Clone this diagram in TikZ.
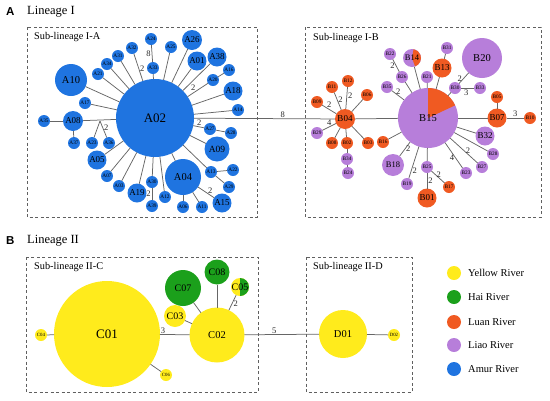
\documentclass[tikz,border=0pt]{standalone}
\usepackage{fontspec}
\setmainfont{Liberation Serif}
\newfontfamily\hsans{Liberation Sans}
\definecolor{yel}{HTML}{FFEB1C}
\definecolor{hai}{HTML}{1BA01B}
\definecolor{luan}{HTML}{F05A22}
\definecolor{liao}{HTML}{B77EDA}
\definecolor{amur}{HTML}{1F74E0}
\definecolor{lnc}{HTML}{666666}
\definecolor{boxc}{HTML}{606060}
\begin{document}
\begin{tikzpicture}[x=1pt,y=-1pt,
  hap/.style={circle,inner sep=0pt,outer sep=0pt,text=black},
  dia/.style={minimum size=#1pt},
  fs/.style={font=\fontsize{#1}{#1}\selectfont},
  sm/.style={hap,dia=12,fs=5.3},
  md/.style={hap,dia=19,fs=9},
  edge/.style={draw=lnc,line width=0.75pt},
  lbl/.style={fs=8.5,inner sep=1pt,text=black!85},
  boxd/.style={draw=boxc,dashed,dash pattern=on 3pt off 2.5pt,line width=0.7pt},
  sub/.style={anchor=west,fs=10.3,inner sep=0pt},
  head/.style={anchor=west,fs=12.5,inner sep=0pt},
  hlet/.style={anchor=west,font=\hsans\bfseries\fontsize{11.5}{11.5}\selectfont,inner sep=0pt},
  lgd/.style={anchor=west,fs=10.5,inner sep=0pt}]
\useasboundingbox (0,0) rectangle (550,400);
% headers and boxes
\node[hlet] (hA) at (6,12) {A};
\node[head] (hAt) at (27,12) {Lineage I};
\node[hlet] (hB) at (6,241) {B};
\node[head] (hBt) at (27,241) {Lineage II};
\draw[boxd] (27,27) rectangle (257,217);
\draw[boxd] (305,27) rectangle (541,217);
\draw[boxd] (26,257) rectangle (258,392);
\draw[boxd] (306,257) rectangle (412,392);
\node[sub] (sA) at (34,37) {Sub-lineage I-A};
\node[sub] (sB) at (313,38) {Sub-lineage I-B};
\node[sub] (sC) at (34,267) {Sub-lineage II-C};
\node[sub] (sD) at (313,267) {Sub-lineage II-D};
% ---------------- Sub-lineage I-A
\node[hap,dia=78,fs=13,fill=amur] (A02) at (155,118) {A02};
\node[sm,fill=amur] (A24) at (151,39) {A24};
\node[sm,fill=amur] (A33) at (153,68) {A33};
\node[sm,fill=amur] (A32) at (132,48) {A32};
\node[sm,fill=amur] (A31) at (118,56) {A31};
\node[sm,fill=amur] (A34) at (107,64) {A34};
\node[sm,fill=amur] (A21) at (98,74) {A21};
\node[hap,dia=32,fs=10.5,fill=amur] (A10) at (71,80) {A10};
\node[sm,fill=amur] (A17) at (85,103) {A17};
\node[md,dia=20,fill=amur] (A08) at (73,121) {A08};
\node[sm,fill=amur] (A35) at (44,121) {A35};
\node[sm,fill=amur] (A37) at (74,143) {A37};
\node[sm,fill=amur] (A23) at (92,143) {A23};
\node[sm,fill=amur] (A36) at (109,143) {A36};
\coordinate (m1) at (100,121);
\node[md,fill=amur] (A05) at (97,160) {A05};
\node[sm,fill=amur] (A07) at (107,176) {A07};
\node[sm,fill=amur] (A03) at (119,186) {A03};
\node[md,fill=amur] (A19) at (137,193) {A19};
\node[sm,fill=amur] (A30) at (152,182) {A30};
\node[sm,fill=amur] (A39) at (152,206) {A39};
\node[sm,fill=amur] (A12) at (165,197) {A12};
\node[hap,dia=36,fs=10.5,fill=amur] (A04) at (183,177) {A04};
\node[sm,fill=amur] (A06) at (183,207) {A06};
\node[sm,fill=amur] (A11) at (202,207) {A11};
\node[md,fill=amur] (A15) at (222,203) {A15};
\node[sm,fill=amur] (A13) at (211,172) {A13};
\node[sm,fill=amur] (A22) at (233,170) {A22};
\node[sm,fill=amur] (A29) at (229,187) {A29};
\node[hap,dia=25,fs=9.5,fill=amur] (A09) at (217,149) {A09};
\node[sm,fill=amur] (A27) at (210,129) {A27};
\node[sm,fill=amur] (A28) at (231,133) {A28};
\node[sm,fill=amur] (A14) at (238,110) {A14};
\node[md,fill=amur] (A18) at (233,91) {A18};
\node[sm,fill=amur] (A20) at (213,80) {A20};
\node[sm,fill=amur] (A16) at (229,70) {A16};
\node[md,fill=amur] (A38) at (217,57) {A38};
\node[md,fill=amur] (A01) at (197,61) {A01};
\node[md,dia=20,fill=amur] (A26) at (192,40) {A26};
\node[sm,fill=amur] (A25) at (171,47) {A25};
\foreach \n in {A21,A34,A31,A33,A25,A26,A01,A38,A18,A14,A10,A17,A08,A05,A07,A03,A19,A30,A12,A04,A13,A09}
  \draw[edge] (A02) -- (\n);
\draw[edge] (A02) -- node[lbl,right,pos=.45] {2} (A32);
\draw[edge] (A33) -- node[lbl,left] {8} (A24);
\draw[edge] (A02) -- node[lbl,above left=-1pt,pos=.4] {2} (A20);
\draw[edge] (A20) -- (A16);
\draw[edge] (A02) -- node[lbl,above,pos=.55] {2} (A27);
\draw[edge] (A27) -- (A28);
\draw[edge] (A08) -- (A35);
\draw[edge] (A08) -- (A37);
\draw[edge] (m1) -- (A23);
\draw[edge] (m1) -- node[lbl,right,pos=.4] {2} (A36);
\draw[edge] (A30) -- node[lbl,left] {2} (A39);
\draw[edge] (A04) -- (A06);
\draw[edge] (A04) -- (A11);
\draw[edge] (A04) -- node[lbl,above right=-1pt,pos=.6] {2} (A15);
\draw[edge] (A13) -- (A22);
\draw[edge] (A13) -- (A29);
% ---------------- Sub-lineage I-B
\fill[liao] (428,118) circle (30pt);
\fill[luan] (428,118) -- ++(-25:30) arc[start angle=-25,end angle=-90,radius=30] -- cycle;
\node[hap,dia=60,fs=10.5] (B15) at (428,118) {B15};
\node[md,dia=20,fill=luan] (B04) at (345,119) {B04};
\draw[edge] (A02) -- node[lbl,above,pos=.63] {8} (B04);
\draw[edge] (B04) -- (B15);
\node[sm,fill=luan] (B09) at (317,102) {B09};
\node[sm,fill=luan] (B11) at (332,87) {B11};
\node[sm,fill=luan] (B12) at (348,81) {B12};
\node[sm,fill=luan] (B06) at (367,95) {B06};
\node[sm,fill=liao] (B29) at (317,133) {B29};
\node[sm,fill=luan] (B08) at (332,143) {B08};
\node[sm,fill=luan] (B02) at (347,143) {B02};
\node[sm,fill=liao] (B34) at (347,159) {B34};
\node[sm,fill=liao] (B24) at (348,173) {B24};
\node[sm,fill=luan] (B03) at (368,143) {B03};
\node[sm,fill=luan] (B16) at (383,142) {B16};
\node[hap,dia=22,fs=8.5,fill=liao] (B18) at (393,165) {B18};
\node[sm,fill=liao] (B19) at (407,184) {B19};
\node[sm,fill=liao] (B35) at (387,87) {B35};
\node[sm,fill=liao] (B22) at (390,54) {B22};
\node[sm,fill=liao] (B26) at (402,77) {B26};
\fill[liao] (412,58) circle (9pt);
\fill[luan] (412,58) -- ++(70:9) arc[start angle=70,end angle=-80,radius=9] -- cycle;
\node[hap,dia=18,fs=8.5] (B14) at (412,58) {B14};
\node[sm,fill=liao] (B21) at (427,77) {B21};
\node[md,fill=luan] (B13) at (442,68) {B13};
\node[sm,fill=liao] (B31) at (447,48) {B31};
\node[hap,dia=40,fs=10.5,fill=liao] (B20) at (482,58) {B20};
\node[sm,fill=liao] (B30) at (455,88) {B30};
\node[sm,fill=liao] (B33) at (480,88) {B33};
\node[sm,fill=luan] (B05) at (497,97) {B05};
\node[md,fill=luan] (B07) at (497,118) {B07};
\node[sm,fill=luan] (B10) at (530,118) {B10};
\node[md,fill=liao] (B32) at (485,136) {B32};
\node[sm,fill=liao] (B28) at (493,154) {B28};
\node[sm,fill=liao] (B27) at (482,167) {B27};
\node[sm,fill=liao] (B23) at (466,173) {B23};
\node[sm,fill=liao] (B25) at (427,167) {B25};
\node[sm,fill=luan] (B17) at (449,187) {B17};
\node[md,fill=luan] (B01) at (427,198) {B01};
\draw[edge] (B04) -- node[lbl,above=1pt,pos=.5] {2} (B09);
\draw[edge] (B04) -- node[lbl,right,pos=.6] {2} (B11);
\draw[edge] (B04) -- node[lbl,right,pos=.6] {2} (B12);
\draw[edge] (B04) -- (B06);
\draw[edge] (B04) -- node[lbl,above,pos=.5] {4} (B29);
\draw[edge] (B04) -- (B08);
\draw[edge] (B04) -- (B02);
\draw[edge] (B02) -- (B34);
\draw[edge] (B34) -- (B24);
\draw[edge] (B04) -- (B03);
\foreach \n in {B16,B14,B21,B13,B26,B30,B07,B32,B28,B25}
  \draw[edge] (B15) -- (\n);
\draw[edge] (B15) -- node[lbl,right,pos=.5] {2} (B18);
\draw[edge] (B15) -- node[lbl,right,pos=.75] {2} (B19);
\draw[edge] (B15) -- node[lbl,above right=-2pt,pos=.6] {2} (B35);
\draw[edge] (B26) -- node[lbl,left,pos=.5] {2} (B22);
\draw[edge] (B13) -- (B31);
\draw[edge] (B30) -- node[lbl,left,pos=.45] {2} (B20);
\draw[edge] (B30) -- node[lbl,below,pos=.4] {3} (B33);
\draw[edge] (B07) -- (B05);
\draw[edge] (B07) -- node[lbl,above,pos=.5] {3} (B10);
\draw[edge] (B15) -- node[lbl,above right=-2pt,pos=.6] {2} (B27);
\draw[edge] (B15) -- node[lbl,left,pos=.6] {4} (B23);
\draw[edge] (B25) -- node[lbl,above right=-2pt,pos=.45] {2} (B17);
\draw[edge] (B25) -- node[lbl,right,pos=.5] {2} (B01);
% ---------------- Lineage II
\node[hap,dia=106,fs=13,fill=yel] (C01) at (107,334) {C01};
\node[hap,dia=12,fs=4.8,fill=yel] (C04) at (41,335) {C04};
\node[hap,dia=12,fs=4.8,fill=yel] (C06) at (166,375) {C06};
\node[hap,dia=55,fs=10.5,fill=yel] (C02) at (217,335) {C02};
\node[hap,dia=22,fs=10,fill=yel] (C03) at (175,316) {C03};
\node[hap,dia=36,fs=10,fill=hai] (C07) at (183,288) {C07};
\node[hap,dia=25,fs=10,fill=hai] (C08) at (217,272) {C08};
\fill[yel] (240,287) circle (9pt);
\fill[hai] (240,287) -- ++(90:9) arc[start angle=90,end angle=-90,radius=9] -- cycle;
\node[hap,dia=18,fs=10] (C05) at (240,287) {C05};
\node[hap,dia=48,fs=10.5,fill=yel] (D01) at (343,334) {D01};
\node[hap,dia=12,fs=4.8,fill=yel] (D02) at (394,335) {D02};
\draw[edge] (C01) -- (C04);
\draw[edge] (C01) -- (C06);
\draw[edge] (C01) -- node[lbl,above,pos=.1] {3} (C02);
\draw[edge] (C02) -- (C03);
\draw[edge] (C02) -- (C07);
\draw[edge] (C02) -- (C08);
\draw[edge] (C02) -- node[lbl,right,pos=.45] {2} (C05);
\draw[edge] (C02) -- node[lbl,above,pos=.4] {5} (D01);
\draw[edge] (D01) -- (D02);
% ---------------- legend
\node[hap,dia=14,fill=yel] (LY) at (454,273) {};
\node[hap,dia=14,fill=hai] (LH) at (454,297) {};
\node[hap,dia=14,fill=luan] (LL) at (454,322) {};
\node[hap,dia=14,fill=liao] (LI) at (454,345) {};
\node[hap,dia=14,fill=amur] (LA) at (454,369) {};
\node[lgd] (LYt) at (468,273) {Yellow River};
\node[lgd] (LHt) at (468,297) {Hai River};
\node[lgd] (LLt) at (468,322) {Luan River};
\node[lgd] (LIt) at (468,345) {Liao River};
\node[lgd] (LAt) at (468,369) {Amur River};
\end{tikzpicture}
\end{document}
